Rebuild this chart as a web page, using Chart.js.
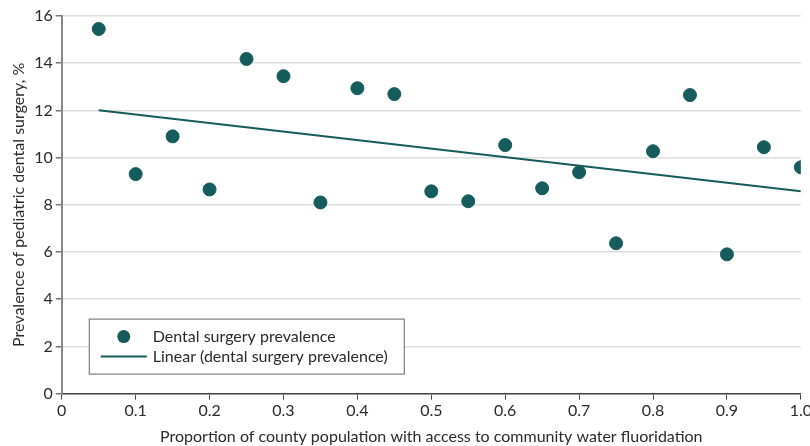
<!DOCTYPE html>
<html>
<head>
<meta charset="utf-8">
<script src="https://cdn.jsdelivr.net/npm/chart.js@4.4.0/dist/chart.umd.min.js"></script>
<style>
  html, body { margin: 0; padding: 0; background: #fff; overflow: hidden; }
  #wrap { width: 814px; height: 446px; position: relative; }
</style>
</head>
<body>
<div id="wrap"><canvas id="chart"></canvas></div>
<script>
// fluoridation proportion (x) and surgery prevalence (y)
const proportions = [0.05, 0.10, 0.15, 0.20, 0.25, 0.30, 0.35, 0.40, 0.45, 0.50,
                     0.55, 0.60, 0.65, 0.70, 0.75, 0.80, 0.85, 0.90, 0.95, 1.00];
const prevalence = [15.45, 9.3, 10.9, 8.65, 14.18, 13.45, 8.1, 12.94, 12.69, 8.57,
                    8.15, 10.53, 8.7, 9.38, 6.37, 10.27, 12.65, 5.9, 10.44, 9.59];
const trendX = [0.05, 1.0];
const trendY = [12.01, 8.57];
const xTicks = [0, 0.1, 0.2, 0.3, 0.4, 0.5, 0.6, 0.7, 0.8, 0.9, 1.0];
const yTicks = [0, 2, 4, 6, 8, 10, 12, 14, 16];

const teal = "#155c5c";
const fontFamily = "Lato, 'Open Sans', sans-serif";

let points = proportions.map((x, i) => ({ x: x, y: prevalence[i] }));
let trend = trendX.map((x, i) => ({ x: x, y: trendY[i] }));

// legend box drawn inside the plot area
const boxLegend = {
  id: "boxLegend",
  afterDraw(chart) {
    const ctx = chart.ctx;
    const area = chart.chartArea;
    const x0 = area.left + 27, y0 = area.bottom - 75, w = 315, h = 55;
    ctx.save();
    ctx.fillStyle = "#fff";
    ctx.fillRect(x0, y0, w, h);
    ctx.strokeStyle = "#666";
    ctx.lineWidth = 1;
    ctx.strokeRect(x0 + 0.5, y0 + 0.5, w, h);

    ctx.fillStyle = teal;
    ctx.beginPath();
    ctx.arc(x0 + 35, y0 + 18, 6.5, 0, Math.PI * 2);
    ctx.fill();

    ctx.strokeStyle = teal;
    ctx.lineWidth = 2;
    ctx.beginPath();
    ctx.moveTo(x0 + 12, y0 + 38);
    ctx.lineTo(x0 + 58, y0 + 38);
    ctx.stroke();

    ctx.fillStyle = "#2a2a2a";
    ctx.font = "16px " + fontFamily;
    ctx.textBaseline = "middle";
    ctx.fillText(chart.data.datasets[0].label, x0 + 64, y0 + 18);
    ctx.fillText(chart.data.datasets[1].label, x0 + 64, y0 + 38);
    ctx.restore();
  },
};

const ctx = document.getElementById("chart").getContext("2d");
const chart = new Chart(ctx, {
  type: "scatter",
  data: {
    datasets: [
      {
        label: "Dental surgery prevalence",
        data: points,
        backgroundColor: teal,
        borderColor: teal,
        pointRadius: 6.5,
        order: 1,
      },
      {
        label: "Linear (dental surgery prevalence)",
        type: "line",
        data: trend,
        borderColor: teal,
        borderWidth: 2,
        pointRadius: 0,
        fill: false,
        order: 2,
      },
    ],
  },
  options: {
    responsive: true,
    maintainAspectRatio: false,
    animation: false,
    layout: { padding: { top: 16, right: 0, left: 5, bottom: 0 } },
    plugins: { legend: { display: false }, tooltip: { enabled: false } },
    scales: {
      x: {
        type: "linear",
        min: 0,
        max: 1,
        afterBuildTicks: (axis) => {
          axis.ticks = xTicks.map((v) => ({ value: v }));
        },
        ticks: {
          color: "#2a2a2a",
          font: { family: fontFamily, size: 16 },
          padding: 2,
          maxRotation: 0,
          callback: (v) => (v === 0 ? "0" : v.toFixed(1)),
        },
        grid: { drawOnChartArea: false, drawTicks: true, tickLength: 6, tickColor: "#444" },
        border: { color: "#444", width: 1.5 },
        title: {
          display: true,
          text: "Proportion of county population with access to community water fluoridation",
          color: "#2a2a2a",
          font: { family: fontFamily, size: 16 },
          padding: { top: 4, bottom: 0 },
        },
      },
      y: {
        min: 0,
        max: 16,
        afterBuildTicks: (axis) => {
          axis.ticks = yTicks.map((v) => ({ value: v }));
        },
        ticks: {
          color: "#2a2a2a",
          font: { family: fontFamily, size: 16 },
          padding: 3,
        },
        grid: { color: "#dddddd", lineWidth: 1.5, tickLength: 6, tickColor: "#777" },
        border: { color: "#888", width: 2 },
        title: {
          display: true,
          text: "Prevalence of pediatric dental surgery, %",
          color: "#2a2a2a",
          font: { family: fontFamily, size: 16 },
          padding: { bottom: 3 },
        },
      },
    },
  },
  plugins: [boxLegend],
});
</script>
</body>
</html>
